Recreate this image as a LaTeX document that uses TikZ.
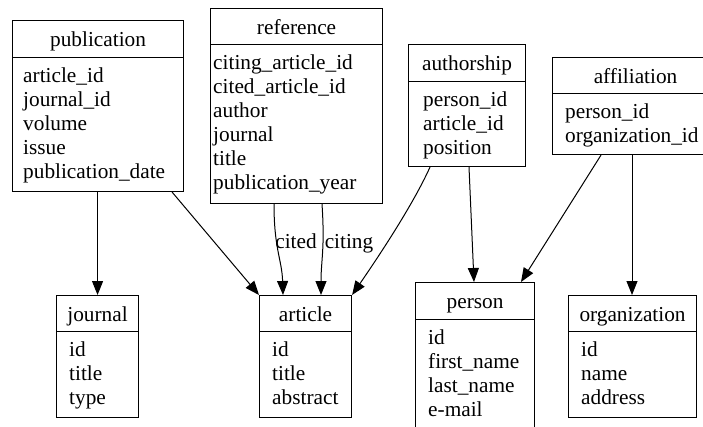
\documentclass[tikz,border=0pt]{standalone}
\usepackage{fontspec}
\setmainfont{Liberation Serif}
\usetikzlibrary{calc,arrows.meta}
\tikzset{
  tfont/.style={font=\fontsize{21.3}{24}\selectfont},
  hdr/.style={draw, line width=1.1pt, anchor=north west, inner sep=0pt, tfont,
    text height=17pt, text depth=2pt, minimum height=37pt},
  bodybox/.style={draw, line width=1.1pt, anchor=north west, inner sep=0pt},
  fields/.style={anchor=north west, inner sep=0pt, align=left, tfont},
  lbl/.style={anchor=base, inner sep=0pt, tfont},
  arr/.style={line width=1pt, -{Triangle[length=14pt,width=11pt]}}
}
\begin{document}
\begin{tikzpicture}[x=1pt,y=-1pt]
\useasboundingbox[fill=white] (0,0) rectangle (703,427);

% publication
\node[hdr, minimum width=171pt] (pubh) at (12,20) {publication};
\node[bodybox, minimum width=171pt, minimum height=134pt] (pubb) at (12,57) {};
\node[fields] (pubf) at ($(pubb.north west)+(11,10.5)$) {article\_id\\journal\_id\\volume\\issue\\publication\_date};

% reference
\node[hdr, minimum width=172pt, minimum height=36pt] (refh) at (210,8) {reference};
\node[bodybox, minimum width=172pt, minimum height=159pt] (refb) at (210,44) {};
\node[fields] (reff) at ($(refb.north west)+(3,10.5)$) {citing\_article\_id\\cited\_article\_id\\author\\journal\\title\\publication\_year};

% authorship
\node[hdr, minimum width=117pt] (authh) at (408,44) {authorship};
\node[bodybox, minimum width=117pt, minimum height=85pt] (authb) at (408,81) {};
\node[fields] (authf) at ($(authb.north west)+(15,10.5)$) {person\_id\\article\_id\\position};

% affiliation
\node[hdr, minimum width=166pt, minimum height=36pt] (affh) at (552,57) {affiliation};
\node[bodybox, minimum width=166pt, minimum height=61pt] (affb) at (552,93) {};
\node[fields] (afff) at ($(affb.north west)+(13,10.5)$) {person\_id\\organization\_id};

% journal
\node[hdr, minimum width=82pt, minimum height=36pt] (jh) at (56,295) {journal};
\node[bodybox, minimum width=82pt, minimum height=86pt] (jb) at (56,331) {};
\node[fields] (jf) at ($(jb.north west)+(13,10.5)$) {id\\title\\type};

% article
\node[hdr, minimum width=92pt, minimum height=36pt] (ah) at (259,295) {article};
\node[bodybox, minimum width=92pt, minimum height=86pt] (ab) at (259,331) {};
\node[fields] (af) at ($(ab.north west)+(13,10.5)$) {id\\title\\abstract};

% person
\node[hdr, minimum width=119pt] (ph) at (415,282) {person};
\node[bodybox, minimum width=119pt, minimum height=125pt] (pb) at (415,319) {};
\node[fields] (pf) at ($(pb.north west)+(13,10.5)$) {id\\first\_name\\last\_name\\e-mail};

% organization
\node[hdr, minimum width=128pt, minimum height=36pt] (oh) at (568,295) {organization};
\node[bodybox, minimum width=128pt, minimum height=86pt] (ob) at (568,331) {};
\node[fields] (of) at ($(ob.north west)+(13,10.5)$) {id\\name\\address};

% connectors
\draw[arr] (jh.north |- pubb.south) -- (jh.north);
\draw[arr] ($(pubb.south east)+(-12,0)$) -- (ah.north west);
\draw[arr] ($(refb.south west)+(64,0)$) .. controls +(0,45) and +(-1,-35) .. ($(ah.north west)+(24,0)$);
\draw[arr] ($(refb.south west)+(112,0)$) .. controls +(3,45) and +(0,-35) .. ($(ah.north west)+(62,0)$);
\node[lbl] (lcited) at (296,249) {cited};
\node[lbl] (lciting) at (349,249) {citing};
\draw[arr] ($(authb.south west)+(22,0)$) .. controls +(-18,40) and +(22,-32) .. (ah.north east);
\draw[arr] ($(authb.south west)+(61,0)$) -- ($(ph.north west)+(59,0)$);
\draw[arr] ($(affb.south west)+(49,0)$) -- ($(ph.north west)+(106,0)$);
\draw[arr] ($(affb.south west)+(80,0)$) -- ($(oh.north west)+(64,0)$);
\end{tikzpicture}
\end{document}
